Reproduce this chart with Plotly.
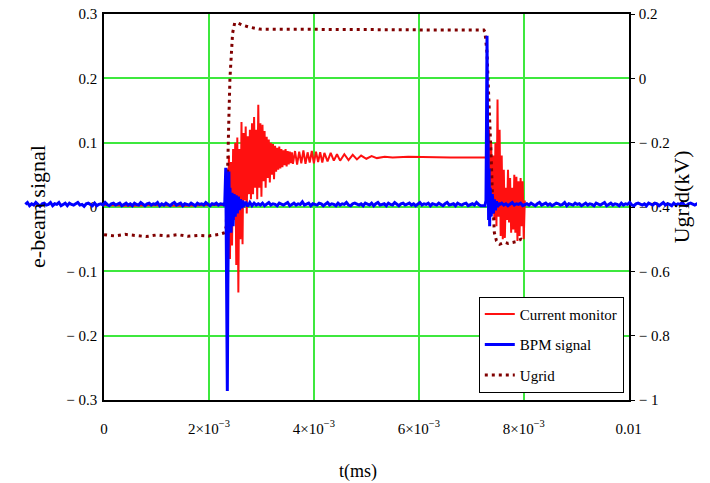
import plotly.graph_objects as go

# ---------------- data (time in microseconds) ----------------
# Current monitor (left axis)
cm_pre_t = [0, 500, 1000, 1500, 2000, 2300]
cm_pre_v = [0.003, 0.002, 0.003, 0.002, 0.003, 0.003]

cm_osc1_t0, cm_osc1_dt = 2320, 20
cm_osc1_v = [0.003, 0.06, -0.03, 0.08, -0.081, 0.07, -0.06, 0.09, -0.02, 0.10,
             -0.09, 0.108, -0.133, 0.09, -0.05, 0.132, -0.058, 0.115, 0.01, 0.125,
             -0.01, 0.11, 0.02, 0.12, 0.012, 0.13, 0.02, 0.14, 0.03, 0.12,
             0.012, 0.159, 0.03, 0.13, 0.016, 0.128, 0.04, 0.118, 0.03, 0.109,
             0.045, 0.105, 0.038, 0.10, 0.05, 0.098, 0.043, 0.095, 0.055, 0.092,
             0.058, 0.094, 0.06, 0.09, 0.062, 0.088, 0.065, 0.09, 0.063, 0.087,
             0.066, 0.086, 0.068, 0.085, 0.067]

cm_osc2_t = [3640, 3680, 3720, 3760, 3800, 3840, 3880, 3920, 3960, 4000, 4040, 4080,
             4120, 4160, 4200, 4260, 4320, 4380, 4440, 4500, 4580, 4660, 4740, 4820,
             4900, 5000, 5100, 5200, 5350, 5500, 5800, 6200, 6600, 7000, 7260]
cm_osc2_v = [0.087, 0.066, 0.086, 0.068, 0.088, 0.067, 0.085, 0.069, 0.087, 0.068, 0.086, 0.070,
             0.085, 0.069, 0.084, 0.071, 0.084, 0.072, 0.082, 0.072, 0.082, 0.073, 0.081, 0.074,
             0.080, 0.075, 0.079, 0.076, 0.078, 0.077, 0.078, 0.077, 0.077, 0.077, 0.077]

cm_osc3_t0, cm_osc3_dt = 7280, 20
cm_osc3_v = [0.077, 0.135, 0.02, 0.12, 0.0, 0.10, -0.01, 0.08, -0.02, 0.10,
             -0.03, 0.167, -0.015, 0.12, -0.045, 0.08, -0.05, 0.058, -0.048, 0.03,
             -0.02, 0.058, -0.024, 0.045, -0.04, 0.03, -0.035, 0.05, -0.04, 0.047,
             -0.053, 0.04, -0.045, 0.045, -0.03, 0.04, -0.05, 0.01]

# BPM signal (left axis)
bpm_a_t0, bpm_a_dt = -1500, 40
bpm_a_v = [0.004, 0.007, 0.002, 0.005, 0.003, 0.007, 0.004, 0.001, 0.005, 0.006, 0.003, 0.004,
           0.007, 0.002, 0.005, 0.004, 0.007, 0.002, 0.004, 0.006, 0.002, 0.006, 0.004, 0.003,
           0.005, 0.007, 0.003, 0.004, 0.001, 0.005, 0.006, 0.004, 0.002, 0.006, 0.002, 0.004,
           0.005, 0.003, 0.007, 0.004, 0.002, 0.005, 0.006, 0.003, 0.004, 0.006, 0.002, 0.004,
           0.006, 0.003, 0.005, 0.002, 0.006, 0.004, 0.003, 0.007, 0.004, 0.002, 0.005, 0.006,
           0.003, 0.005, 0.004, 0.007, 0.002, 0.005, 0.003, 0.006, 0.004, 0.002, 0.005, 0.007,
           0.003, 0.004, 0.006, 0.002, 0.005, 0.004, 0.003, 0.006, 0.004, 0.002, 0.006, 0.004,
           0.005, 0.003, 0.007, 0.004, 0.002, 0.005, 0.004, 0.006, 0.003, 0.005, 0.004]

bpm_s1_t = [2280, 2300, 2310, 2320, 2330, 2340, 2350, 2360, 2370, 2380, 2390, 2400,
            2420, 2440, 2460, 2480, 2500, 2520, 2540, 2560, 2580, 2600, 2620, 2640,
            2660, 2700, 2740, 2780, 2820, 2860, 2900]
bpm_s1_v = [0.004, 0.002, 0.03, 0.061, -0.05, -0.14, -0.286, -0.12, 0.04, 0.055, -0.02, 0.03,
            -0.04, 0.022, -0.03, 0.02, -0.015, 0.018, -0.01, 0.016, -0.005, 0.012, -0.002, 0.01,
            0.0, 0.008, 0.001, 0.007, 0.002, 0.006, 0.003]

bpm_b_t0, bpm_b_dt = 2940, 40
bpm_b_v = [0.005, 0.003, 0.006, 0.002, 0.004, 0.007, 0.003, 0.005, 0.004, 0.002, 0.006, 0.004,
           0.003, 0.005, 0.007, 0.002, 0.004, 0.006, 0.003, 0.005, 0.004, 0.008, 0.003, 0.004,
           0.006, 0.002, 0.005, 0.004, 0.003, 0.006, 0.005, 0.002, 0.004, 0.007, 0.003, 0.005,
           0.004, 0.002, 0.006, 0.003, 0.005, 0.004, 0.007, 0.003, 0.002, 0.005, 0.006, 0.004,
           0.003, 0.005, 0.002, 0.006, 0.004, 0.003, 0.006, 0.002, 0.005, 0.007, 0.003, 0.004,
           0.005, 0.002, 0.006, 0.004, 0.003, 0.007, 0.004, 0.002, 0.005, 0.006, 0.003, 0.004,
           0.006, 0.003, 0.005, 0.002, 0.004, 0.007, 0.003, 0.005, 0.004, 0.006, 0.002, 0.005,
           0.004, 0.003, 0.006, 0.004, 0.002, 0.005, 0.007, 0.003, 0.004, 0.005, 0.002, 0.006,
           0.004, 0.003, 0.005, 0.006, 0.002, 0.004, 0.005, 0.003, 0.007, 0.004, 0.002]

bpm_s2_t = [7260, 7280, 7290, 7300, 7310, 7320, 7330, 7340, 7350, 7360, 7380, 7400,
            7420, 7440, 7460, 7480, 7500, 7520]
bpm_s2_v = [0.002, 0.01, 0.13, 0.266, 0.13, 0.10, -0.02, 0.06, -0.03, 0.03, -0.015, 0.02,
            -0.01, 0.012, -0.005, 0.009, 0.0, 0.006]

bpm_c_t0, bpm_c_dt = 7540, 40
bpm_c_v = [0.004, 0.006, 0.003, 0.005, 0.002, 0.004, 0.007, 0.003, 0.005, 0.004, 0.006, 0.002,
           0.004, 0.005, 0.003, 0.006, 0.004, 0.002, 0.005, 0.007, 0.003, 0.004, 0.006, 0.003,
           0.005, 0.002, 0.004, 0.006, 0.005, 0.003, 0.004, 0.007, 0.002, 0.005, 0.004, 0.003,
           0.006, 0.004, 0.005, 0.002, 0.004, 0.006, 0.003, 0.005, 0.004, 0.002, 0.006, 0.004,
           0.003, 0.005, 0.007, 0.002, 0.004, 0.006, 0.003, 0.005, 0.004, 0.002, 0.006, 0.003,
           0.005, 0.004, 0.007, 0.003, 0.002, 0.005, 0.006, 0.004, 0.003, 0.005, 0.002, 0.006,
           0.004, 0.003, 0.006, 0.005, 0.002, 0.004, 0.007, 0.003, 0.005, 0.004, 0.002, 0.006,
           0.003, 0.005, 0.004, 0.007, 0.003, 0.002, 0.005, 0.006, 0.004, 0.003, 0.005, 0.004,
           0.006]

# Ugrid (right axis, kV)
ug_t = [0, 200, 400, 600, 800, 1000, 1200, 1400, 1600, 1800, 2000, 2200, 2300,
        2330, 2345, 2360, 2380, 2400, 2420, 2450, 2490, 2550, 2650, 2750, 2960,
        3400, 4000, 4600, 5200, 5800, 6400, 7000, 7240,
        7260, 7280, 7300, 7320, 7340, 7360, 7380, 7400, 7420, 7440, 7480, 7540,
        7600, 7640, 7700, 7770, 7850, 7950, 8020]
ug_v = [-0.486, -0.490, -0.485, -0.489, -0.492, -0.487, -0.490, -0.486, -0.491, -0.488, -0.490, -0.485, -0.48,
        -0.46, -0.38, -0.27, -0.12, 0.0, 0.07, 0.14, 0.172, 0.172, 0.165, 0.16, 0.153,
        0.153, 0.152, 0.152, 0.151, 0.151, 0.150, 0.150, 0.150,
        0.145, 0.11, 0.079, -0.005, -0.076, -0.138, -0.25, -0.35, -0.43, -0.48, -0.505, -0.516,
        -0.512, -0.51, -0.513, -0.51, -0.508, -0.50, -0.505]

x_tickvals = [0, 0.002, 0.004, 0.006, 0.008, 0.01]
x_ticktext = ["0", "2×10<sup>−3</sup>", "4×10<sup>−3</sup>", "6×10<sup>−3</sup>",
              "8×10<sup>−3</sup>", "0.01"]
y_tickvals = [0.3, 0.2, 0.1, 0, -0.1, -0.2, -0.3]
y_ticktext = ["0.3", "0.2", "0.1", "0", "− 0.1", "− 0.2", "− 0.3"]
y2_tickvals = [0.2, 0, -0.2, -0.4, -0.6, -0.8, -1]
y2_ticktext = ["0.2", "0", "− 0.2", "− 0.4", "− 0.6", "− 0.8", "− 1"]

# ---------------- assemble ----------------
def us(lst):
    return [v * 1e-6 for v in lst]

def grid_t(t0, dt, n):
    return [t0 + dt * i for i in range(n)]

cm_t = cm_pre_t + grid_t(cm_osc1_t0, cm_osc1_dt, len(cm_osc1_v)) + cm_osc2_t + \
    grid_t(cm_osc3_t0, cm_osc3_dt, len(cm_osc3_v))
cm_v = cm_pre_v + cm_osc1_v + cm_osc2_v + cm_osc3_v

bpm_t = grid_t(bpm_a_t0, bpm_a_dt, len(bpm_a_v)) + bpm_s1_t + \
    grid_t(bpm_b_t0, bpm_b_dt, len(bpm_b_v)) + bpm_s2_t + \
    grid_t(bpm_c_t0, bpm_c_dt, len(bpm_c_v))
bpm_v = bpm_a_v + bpm_s1_v + bpm_b_v + bpm_s2_v + bpm_c_v

W, H = 710, 483
XL, XR = 102.5, 640.0      # plot area left/right in px
YT, YB = 14.0, 400.5       # plot area top/bottom in px
scale = 0.01 / (XR - XL)
x3_range = [0 - XL * scale, 0.01 + (W - XR) * scale]

FONT = "Liberation Serif, Times New Roman, Times, serif"
GRID = "#3ee83e"

fig = go.Figure()
fig.add_trace(go.Scatter(x=us(cm_t), y=cm_v, mode="lines", name="Current monitor",
                         line=dict(color="#ff1010", width=2), xaxis="x", yaxis="y",
                         legendgroup="a"))
fig.add_trace(go.Scatter(x=us(bpm_t), y=bpm_v, mode="lines", name="BPM signal",
                         line=dict(color="#0000ff", width=3), xaxis="x3", yaxis="y3",
                         legendgroup="b"))
fig.add_trace(go.Scatter(x=us(ug_t), y=ug_v, mode="lines", name="Ugrid",
                         line=dict(color="#800000", width=3, dash="3px,4px"),
                         xaxis="x", yaxis="y2", legendgroup="c"))

fig.update_layout(
    width=W, height=H,
    margin=dict(l=0, r=0, t=YT, b=H - YB, pad=0),
    paper_bgcolor="white", plot_bgcolor="rgba(0,0,0,0)",
    font=dict(family=FONT, size=15, color="black"),
    showlegend=True,
    legend=dict(x=635 / W, xanchor="right", y=(YB - 297) / (YB - YT), yanchor="top",
                bgcolor="white", bordercolor="black", borderwidth=1,
                font=dict(family=FONT, size=15), traceorder="grouped",
                tracegroupgap=8),
    xaxis=dict(domain=[XL / W, XR / W], range=[0, 0.01], tickvals=x_tickvals,
               ticktext=x_ticktext, showgrid=True, gridcolor=GRID, gridwidth=1.5,
               zeroline=False, showline=True, linecolor="black", linewidth=1.5,
               mirror=True, ticks="", ticklabelstandoff=14, anchor="y",
               tickfont=dict(family=FONT, size=15)),
    yaxis=dict(domain=[0, 1], range=[-0.3, 0.3], tickvals=y_tickvals,
               ticktext=y_ticktext, showgrid=True, gridcolor=GRID, gridwidth=1.5,
               zeroline=False, showline=True, linecolor="black", linewidth=1.5,
               mirror=True, ticks="", ticklabelstandoff=2, anchor="x",
               tickfont=dict(family=FONT, size=15)),
    yaxis2=dict(range=[-1, 0.2], overlaying="y", side="right", anchor="x",
                tickvals=y2_tickvals, ticktext=y2_ticktext, showgrid=False,
                zeroline=False, showline=False, ticks="outside", ticklen=5,
                tickcolor="black", tickwidth=1, ticklabelstandoff=1,
                tickfont=dict(family=FONT, size=15)),
    xaxis3=dict(domain=[0, 1], range=x3_range, visible=False, anchor="y3",
                showgrid=False, zeroline=False),
    yaxis3=dict(domain=[0, 1], range=[-0.3, 0.3], visible=False, anchor="x3",
                showgrid=False, zeroline=False),
)

def px_x(p):
    return p / W

def px_y(p):
    return (YB - p) / (YB - YT)

fig.add_annotation(text="e-beam signal", xref="paper", yref="paper",
                   x=px_x(35), y=px_y(207), textangle=-90, showarrow=False,
                   xanchor="center", yanchor="middle", font=dict(family=FONT, size=22))
fig.add_annotation(text="Ugrid(kV)", xref="paper", yref="paper",
                   x=px_x(709), y=px_y(197), textangle=-90, showarrow=False,
                   xanchor="right", yanchor="middle", font=dict(family=FONT, size=22))
fig.add_annotation(text="t(ms)", xref="paper", yref="paper",
                   x=px_x(363), y=px_y(472), showarrow=False,
                   xanchor="center", yanchor="middle", font=dict(family=FONT, size=18))

fig.write_html("out.html")
